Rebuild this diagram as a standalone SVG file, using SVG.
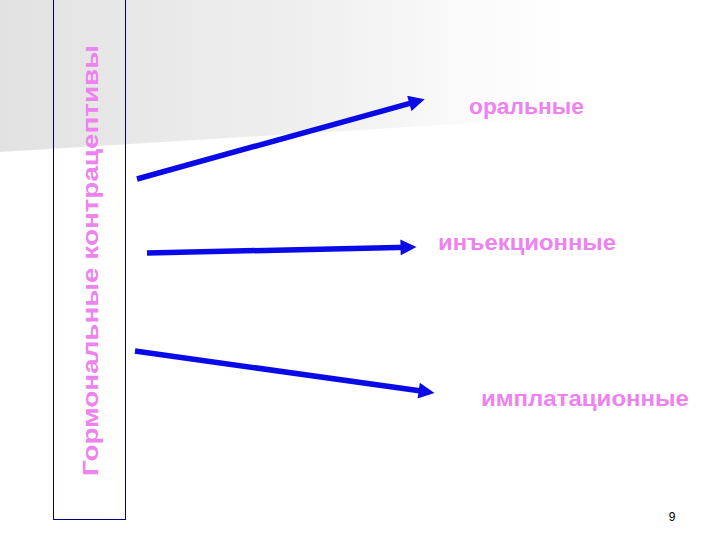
<svg xmlns="http://www.w3.org/2000/svg" width="720" height="540" viewBox="0 0 720 540">
<defs>
<linearGradient id="bg" x1="0" y1="0" x2="1" y2="0">
<stop offset="0" stop-color="#e2e2e2"/>
<stop offset="0.45" stop-color="#f0f0f0"/>
<stop offset="0.66" stop-color="#fbfbfb"/>
<stop offset="0.8" stop-color="#ffffff"/>
</linearGradient>
<marker id="ah" viewBox="0 0 10 10" refX="5" refY="5" markerWidth="3.1" markerHeight="2.9" orient="auto" markerUnits="strokeWidth">
<path d="M0,0 L10,5 L0,10 Z" fill="#0a0ae6"/>
</marker>
</defs>
<style>
.lbl{font-family:"Liberation Sans",Arial,sans-serif;font-weight:bold;font-size:22px;fill:#ee82ee}
.arr{stroke:#0a0ae6;stroke-width:5.5;fill:none;stroke-linecap:butt}
</style>
<rect width="720" height="540" fill="#ffffff"/>
<polygon points="0,0 720,0 720,108 0,152" fill="url(#bg)"/>
<g id="title">
<rect x="53.5" y="-1" width="72" height="520.5" fill="none" stroke="#000080" stroke-width="1"/>
<text class="lbl" font-size="23.5" transform="translate(98,476) rotate(-90)" textLength="431" lengthAdjust="spacingAndGlyphs">Гормональные контрацептивы</text>
</g>
<g id="connectors">
<line class="arr" x1="137" y1="179" x2="417" y2="101.3" marker-end="url(#ah)"/>
<line class="arr" x1="147" y1="253" x2="408.5" y2="247.2" marker-end="url(#ah)"/>
<line class="arr" x1="135" y1="351" x2="426.6" y2="391.8" marker-end="url(#ah)"/>
</g>
<g id="n-oral"><text class="lbl" x="469" y="114" textLength="115" lengthAdjust="spacingAndGlyphs">оральные</text></g>
<g id="n-inj"><text class="lbl" x="438" y="250" textLength="178" lengthAdjust="spacingAndGlyphs">инъекционные</text></g>
<g id="n-impl"><text class="lbl" x="481" y="406" textLength="208" lengthAdjust="spacingAndGlyphs">имплатационные</text></g>
<g id="page"><text x="672" y="521" text-anchor="middle" font-family="Liberation Sans,Arial,sans-serif" font-size="12" fill="#000">9</text></g>
</svg>
